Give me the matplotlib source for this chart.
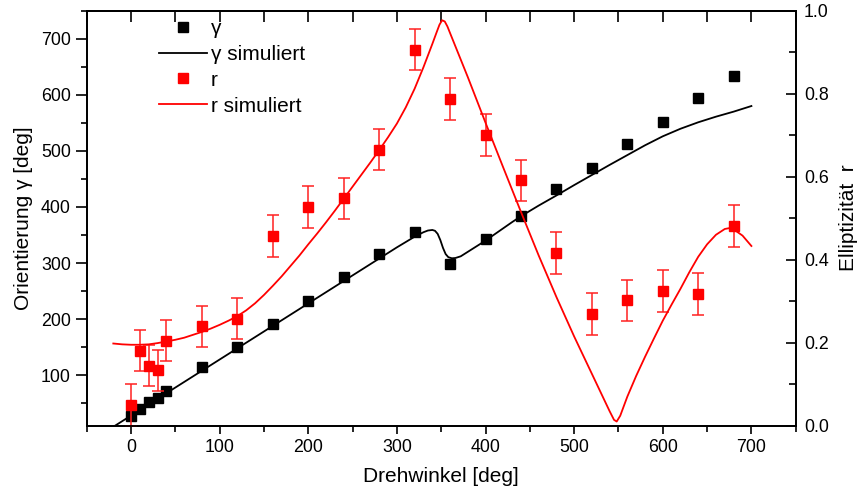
import numpy as np
import matplotlib
matplotlib.use("Agg")
import matplotlib.pyplot as plt
from matplotlib.ticker import MultipleLocator

plt.rcParams['font.family'] = ['Liberation Sans', 'DejaVu Sans']

# measured orientation gamma [deg]
winkel = [0, 10, 20, 30, 40, 80, 120, 160, 200, 240, 280, 320, 360,
          400, 440, 480, 520, 560, 600, 640, 680]
gamma = [28, 39, 52, 59, 71, 114, 151, 191, 232, 275, 316, 355, 299,
         342, 384, 432, 470, 513, 552, 594, 633]

# measured ellipticity r with error
r_mess = [0.05, 0.181, 0.145, 0.133, 0.205, 0.239, 0.258, 0.457, 0.527,
          0.548, 0.665, 0.906, 0.787, 0.700, 0.591, 0.416, 0.269, 0.302,
          0.325, 0.317, 0.481]
r_fehler = [0.05] * len(r_mess)

# simulated gamma
sim_g_x = [-20, 0, 100, 200, 300, 320, 330, 335, 340, 343, 346, 349, 352,
           355, 358, 362, 366, 372, 380, 390, 400, 410, 420, 430, 440, 450,
           460, 470, 480, 500, 520, 540, 560, 580, 600, 620, 640, 660, 680, 700]
sim_g = [8, 28, 128, 228, 328, 347, 355, 358, 359, 357.5, 352, 341, 327,
         316, 310.5, 308.5, 309, 312, 320, 330, 340, 351, 362, 373, 383.5, 393,
         402.5, 411.5, 420.5, 439, 457, 475, 492.5, 510, 526, 539.5, 551, 561,
         570, 580]

# simulated r
sim_r_x = [-20, -10, 0, 10, 20, 30, 40, 50, 60, 70, 80, 90, 100, 110, 120,
           130, 140, 150, 160, 170, 180, 190, 200, 210, 220, 230, 240, 250,
           260, 270, 280, 290, 300, 310, 320, 330, 340, 345, 348, 351, 354,
           357, 360, 370, 380, 400, 420, 440, 460, 480, 500, 520, 530, 540,
           545, 548, 552, 560, 570, 580, 590, 600, 610, 620, 630, 640, 650,
           660, 670, 675, 680, 690, 700]
sim_r = [0.198, 0.196, 0.195, 0.195, 0.196, 0.199, 0.203, 0.207, 0.212,
         0.219, 0.226, 0.234, 0.243, 0.253, 0.264, 0.278, 0.295, 0.315, 0.337,
         0.36, 0.385, 0.41, 0.437, 0.463, 0.49, 0.518, 0.547, 0.576, 0.605,
         0.634, 0.664, 0.695, 0.728, 0.767, 0.812, 0.864, 0.92, 0.949, 0.966,
         0.977, 0.974, 0.962, 0.946, 0.893, 0.84, 0.73, 0.622, 0.515, 0.41,
         0.31, 0.215, 0.125, 0.08, 0.035, 0.014, 0.01, 0.024, 0.07, 0.12,
         0.166, 0.21, 0.253, 0.292, 0.33, 0.37, 0.407, 0.437, 0.46, 0.474,
         0.476, 0.473, 0.458, 0.433]

fig = plt.figure(figsize=(8.62, 4.97), dpi=100)
ax = fig.add_axes([0.1006, 0.1435, 0.8225, 0.835])
ax2 = ax.twinx()

h1, = ax.plot(winkel, gamma, 's', color='black', markersize=7, label='γ')
h2, = ax.plot(sim_g_x, sim_g, '-', color='black', lw=1.3, label='γ simuliert')

ax2.errorbar(winkel, r_mess, yerr=r_fehler, fmt='none', ecolor='#ff2020',
             elinewidth=1.1, capsize=4, capthick=1.1)
h3, = ax2.plot(winkel, r_mess, 's', color='#ff0000', markersize=7.5, label='r')
h4, = ax2.plot(sim_r_x, sim_r, '-', color='#ff0000', lw=1.3, label='r simuliert')

ax.set_xlim(-50, 750)
ax.set_ylim(10, 750)
ax2.set_ylim(0, 1.0)

ax.xaxis.set_major_locator(MultipleLocator(100))
ax.xaxis.set_minor_locator(MultipleLocator(50))
ax.yaxis.set_major_locator(MultipleLocator(100))
ax.yaxis.set_minor_locator(MultipleLocator(50))
ax2.yaxis.set_major_locator(MultipleLocator(0.2))
ax2.yaxis.set_minor_locator(MultipleLocator(0.1))
ax2.yaxis.set_major_formatter(plt.FormatStrFormatter('%.1f'))

ax.tick_params(axis='both', which='major', direction='out', length=6,
               width=1.2, labelsize=12.8, top=False, right=False)
ax.tick_params(axis='both', which='minor', direction='out', length=4, width=1.2)
ax.tick_params(axis='y', which='major', length=8)
ax2.tick_params(axis='y', which='major', direction='in', length=7, width=1.2,
                labelsize=12.8, pad=6)
ax2.tick_params(axis='y', which='minor', direction='in', length=5, width=1.2)

top = ax.secondary_xaxis('top')
top.xaxis.set_major_locator(MultipleLocator(50))
top.tick_params(direction='in', length=8, width=1.2, labeltop=False)

for a in (ax, ax2):
    for s in a.spines.values():
        s.set_linewidth(1.3)
top.spines['top'].set_linewidth(1.3)

ax.set_xlabel('Drehwinkel [deg]', fontsize=15, labelpad=8)
ax.set_ylabel('Orientierung γ [deg]', fontsize=15, labelpad=6)
ax2.set_ylabel('Elliptizität  r', fontsize=15, labelpad=7)

ax2.legend(handles=[h1, h2, h3, h4], loc='upper left',
           bbox_to_anchor=(0.085, 1.01), frameon=False, fontsize=15,
           handlelength=2.3, handletextpad=0.15, labelspacing=0.33,
           borderaxespad=0.2)

fig.savefig('out.png', dpi=100)
